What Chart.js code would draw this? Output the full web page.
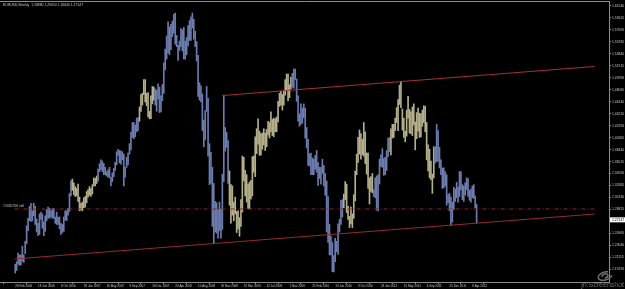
<!DOCTYPE html>
<html>
<head>
<meta charset="utf-8">
<script src="https://cdn.jsdelivr.net/npm/chart.js@4.4.1/dist/chart.umd.min.js"></script>
<style>
  html, body { margin: 0; padding: 0; background: #000; }
  canvas { display: block; }
</style>
</head>
<body>
<canvas id="chart" width="625" height="289"></canvas>
<script>
// EURUSD weekly, one entry per bar starting 26 Feb 2006
const highs = [
  1.2000, 1.2040, 1.2180, 1.2150, 1.2150, 1.2290, 1.2150, 1.2370, 1.2620, 1.2740,
  1.2930, 1.2980, 1.2860, 1.2980, 1.2930, 1.2730, 1.2660, 1.2810, 1.2840, 1.2810,
  1.2680, 1.2780, 1.2880, 1.2920, 1.2900, 1.2860, 1.2890, 1.2900, 1.2760, 1.2840,
  1.2760, 1.2760, 1.2660, 1.2640, 1.2760, 1.2860, 1.2860, 1.2900, 1.3140, 1.3340,
  1.3370, 1.3310, 1.3250, 1.3220, 1.3290, 1.3080, 1.2980, 1.3000, 1.3070, 1.3090,
  1.3170, 1.3200, 1.3250, 1.3220, 1.3280, 1.3390, 1.3380, 1.3420, 1.3530, 1.3620,
  1.3680, 1.3660, 1.3620, 1.3560, 1.3490, 1.3520, 1.3560, 1.3400, 1.3470, 1.3540,
  1.3640, 1.3810, 1.3850, 1.3830, 1.3820, 1.3810, 1.3770, 1.3560, 1.3720, 1.3790,
  1.3940, 1.4120, 1.4280, 1.4280, 1.4240, 1.4350, 1.4360, 1.4530, 1.4730, 1.4750,
  1.4970, 1.4970, 1.4750, 1.4760, 1.4460, 1.4710, 1.4860, 1.4850, 1.4820, 1.4800,
  1.4900, 1.4850, 1.4710, 1.4890, 1.5240, 1.5460, 1.5670, 1.5900, 1.5820, 1.5860,
  1.5910, 1.6020, 1.6040, 1.5680, 1.5520, 1.5590, 1.5790, 1.5770, 1.5810, 1.5590,
  1.5650, 1.5840, 1.5920, 1.5980, 1.6040, 1.5940, 1.5750, 1.5580, 1.5360, 1.4920,
  1.4870, 1.4740, 1.4320, 1.4470, 1.4860, 1.4670, 1.3940, 1.3800, 1.3560, 1.3300,
  1.3010, 1.2990, 1.2880, 1.3000, 1.2890, 1.3450, 1.4720, 1.4200, 1.4120, 1.3990,
  1.3500, 1.3280, 1.3260, 1.3000, 1.3080, 1.2850, 1.2860, 1.2750, 1.3040, 1.3740,
  1.3720, 1.3510, 1.3440, 1.3290, 1.3320, 1.3350, 1.3730, 1.3740, 1.4050, 1.4180,
  1.4340, 1.4140, 1.4100, 1.4110, 1.4180, 1.4110, 1.4170, 1.4300, 1.4280, 1.4450,
  1.4330, 1.4350, 1.4340, 1.4370, 1.4620, 1.4750, 1.4780, 1.4730, 1.4790, 1.4970,
  1.5060, 1.5060, 1.4890, 1.5010, 1.5070, 1.5140, 1.5140, 1.4980, 1.4710, 1.4420,
  1.4580, 1.4510, 1.4580, 1.4510, 1.4200, 1.4010, 1.3780, 1.3790, 1.3710, 1.3690,
  1.3750, 1.3830, 1.3640, 1.3560, 1.3560, 1.3690, 1.3590, 1.3460, 1.3340, 1.3090,
  1.2640, 1.2450, 1.2350, 1.2140, 1.2420, 1.2370, 1.2650, 1.2720, 1.3030, 1.3040,
  1.3130, 1.3330, 1.3290, 1.2930, 1.2770, 1.2920, 1.2810, 1.3120, 1.3500, 1.3770,
  1.4040, 1.4160, 1.4100, 1.4010, 1.4280, 1.4130, 1.3790, 1.3790, 1.3390, 1.3410,
  1.3460, 1.3200, 1.3390, 1.3420, 1.3440, 1.3690, 1.3760, 1.3860, 1.3700, 1.3720,
  1.3830, 1.4030, 1.4040, 1.4180, 1.4250, 1.4250, 1.4350, 1.4520, 1.4650, 1.4880,
  1.4940, 1.4500, 1.4350, 1.4140, 1.4480, 1.4700, 1.4490, 1.4450, 1.4530, 1.4580,
  1.4290, 1.4440, 1.4510, 1.4430, 1.4420, 1.4480, 1.4550, 1.4540, 1.4280, 1.3920,
  1.3850, 1.3660, 1.3450, 1.3890, 1.3890, 1.4250, 1.4150, 1.3880, 1.3680, 1.3550,
  1.3550, 1.3490, 1.3440, 1.3120, 1.3140, 1.3080, 1.3000, 1.3240, 1.3210, 1.3320,
  1.3240, 1.3490, 1.3490, 1.3280, 1.3260, 1.3310, 1.3390, 1.3380, 1.3190, 1.3210,
  1.3260, 1.3280, 1.3100, 1.2961
];
const lows = [
  1.1860, 1.1900, 1.2000, 1.1980, 1.1990, 1.2050, 1.2030, 1.2170, 1.2330, 1.2540,
  1.2700, 1.2690, 1.2700, 1.2780, 1.2640, 1.2520, 1.2460, 1.2480, 1.2720, 1.2580,
  1.2460, 1.2530, 1.2700, 1.2740, 1.2740, 1.2760, 1.2740, 1.2740, 1.2660, 1.2640,
  1.2640, 1.2570, 1.2480, 1.2510, 1.2530, 1.2710, 1.2700, 1.2790, 1.2850, 1.3100,
  1.3190, 1.3120, 1.3090, 1.3100, 1.3010, 1.2860, 1.2870, 1.2860, 1.2910, 1.2920,
  1.2990, 1.3080, 1.3110, 1.3090, 1.3130, 1.3260, 1.3260, 1.3300, 1.3340, 1.3490,
  1.3520, 1.3490, 1.3440, 1.3440, 1.3420, 1.3400, 1.3390, 1.3260, 1.3330, 1.3410,
  1.3510, 1.3600, 1.3750, 1.3630, 1.3610, 1.3680, 1.3260, 1.3400, 1.3560, 1.3600,
  1.3770, 1.3840, 1.4040, 1.4020, 1.4050, 1.4130, 1.4150, 1.4300, 1.4460, 1.4560,
  1.4730, 1.4610, 1.4550, 1.4370, 1.4340, 1.4340, 1.4580, 1.4640, 1.4560, 1.4460,
  1.4660, 1.4440, 1.4450, 1.4630, 1.4750, 1.5130, 1.5300, 1.5400, 1.5370, 1.5450,
  1.5660, 1.5720, 1.5540, 1.5500, 1.5280, 1.5440, 1.5500, 1.5430, 1.5300, 1.5300,
  1.5370, 1.5510, 1.5600, 1.5600, 1.5800, 1.5620, 1.5500, 1.5270, 1.4700, 1.4640,
  1.4610, 1.4150, 1.3890, 1.4000, 1.4460, 1.3740, 1.3280, 1.3300, 1.2610, 1.2330,
  1.2520, 1.2500, 1.2420, 1.2540, 1.2420, 1.2560, 1.3330, 1.3820, 1.3880, 1.3300,
  1.2950, 1.2660, 1.2790, 1.2700, 1.2810, 1.2510, 1.2570, 1.2450, 1.2610, 1.2840,
  1.3340, 1.3100, 1.3000, 1.2900, 1.2890, 1.3050, 1.3100, 1.3480, 1.3410, 1.3780,
  1.3930, 1.3750, 1.3760, 1.3850, 1.3920, 1.3830, 1.3890, 1.4080, 1.4030, 1.4130,
  1.4070, 1.4050, 1.4130, 1.4130, 1.4290, 1.4540, 1.4560, 1.4480, 1.4560, 1.4720,
  1.4790, 1.4630, 1.4680, 1.4820, 1.4850, 1.4830, 1.4970, 1.4620, 1.4300, 1.4220,
  1.4250, 1.4270, 1.4360, 1.4030, 1.3870, 1.3590, 1.3580, 1.3440, 1.3440, 1.3440,
  1.3530, 1.3480, 1.3270, 1.3380, 1.3290, 1.3460, 1.3260, 1.3110, 1.2520, 1.2350,
  1.2150, 1.2150, 1.1880, 1.1876, 1.2040, 1.2200, 1.2160, 1.2520, 1.2640, 1.2760,
  1.2910, 1.3040, 1.2830, 1.2720, 1.2590, 1.2650, 1.2590, 1.2740, 1.3020, 1.3440,
  1.3640, 1.3770, 1.3690, 1.3760, 1.3740, 1.3620, 1.3450, 1.3220, 1.2970, 1.3170,
  1.3150, 1.3090, 1.3070, 1.2870, 1.2860, 1.3290, 1.3570, 1.3560, 1.3430, 1.3440,
  1.3510, 1.3730, 1.3810, 1.3760, 1.4030, 1.4040, 1.4150, 1.4280, 1.4150, 1.4570,
  1.4520, 1.4160, 1.4040, 1.3970, 1.4060, 1.4350, 1.4110, 1.4100, 1.4070, 1.4240,
  1.3840, 1.4020, 1.4140, 1.4040, 1.4050, 1.4220, 1.4280, 1.4130, 1.3680, 1.3500,
  1.3390, 1.3360, 1.3140, 1.3390, 1.3630, 1.3650, 1.3660, 1.3550, 1.3440, 1.3220,
  1.3230, 1.3260, 1.2950, 1.2990, 1.2860, 1.2620, 1.2680, 1.2880, 1.3010, 1.3070,
  1.3000, 1.3090, 1.3200, 1.3040, 1.3010, 1.3110, 1.3200, 1.3090, 1.3030, 1.3000,
  1.3070, 1.3060, 1.2910, 1.2664
];
const lastBar = ['1.28880', '1.29610', '1.26640', '1.27147'];
const lastClose = 1.27147;

// bar ranges drawn in the light (khaki) colour, by bar index
const lightRanges = [[40, 57], [87, 97], [150, 193], [230, 250], [263, 293]];

const priceTicks = [
  1.19190, 1.21115, 1.23040, 1.24965, 1.26890, 1.28815, 1.30740, 1.32665,
  1.34590, 1.36515, 1.38440, 1.40365, 1.42290, 1.44215, 1.46140, 1.48065,
  1.49990, 1.51915, 1.53840, 1.55765, 1.57690, 1.59615, 1.61540
];
const dateTicks = [
  '26 Feb 2006', '18 Jun 2006', '8 Oct 2006', '28 Jan 2007', '20 May 2007',
  '9 Sep 2007', '30 Dec 2007', '20 Apr 2008', '10 Aug 2008', '30 Nov 2008',
  '22 Mar 2009', '12 Jul 2009', '1 Nov 2009', '21 Feb 2010', '13 Jun 2010',
  '3 Oct 2010', '23 Jan 2011', '15 May 2011', '4 Sep 2011', '25 Dec 2011',
  '8 Apr 2012'
];
const DATE_STEP = 16;
const TOTAL_SLOTS = 406;

const orderPrice = 1.2889;
const orderLabel = '#1345756 sell';
const lowerTrend = [{ x: -0.5, y: 1.2085 }, { x: 405.5, y: 1.2808 }];
const upperTrend = [{ x: 145, y: 1.4714 }, { x: 405.5, y: 1.5181 }];

const BLUE = '#6d7cae';
const KHAKI = '#b3af8b';
const AXIS = '#8c8c8c';
const TEXT = '#c8c8c8';
const FONT = 'Liberation Sans';

const isLight = (i) => lightRanges.some(([a, b]) => i >= a && i <= b);

const overlay = {
  id: 'overlay',
  afterDraw(chart) {
    const { ctx, chartArea, scales } = chart;
    ctx.save();
    // frame top line
    ctx.strokeStyle = AXIS;
    ctx.lineWidth = 1;
    ctx.beginPath();
    ctx.moveTo(chartArea.left, chartArea.top + 0.5);
    ctx.lineTo(chartArea.right, chartArea.top + 0.5);
    ctx.stroke();

    ctx.font = '3.4px "' + FONT + '"';
    ctx.fillStyle = TEXT;
    ctx.textBaseline = 'middle';
    ctx.fillText('EURUSD,Weekly  ' + lastBar.join(' '), 3, 5);

    const oy = scales.y.getPixelForValue(orderPrice);
    ctx.fillText(orderLabel, 3, oy - 3);

    // current price box
    const cy = scales.y.getPixelForValue(lastClose);
    ctx.fillStyle = '#ffffff';
    ctx.fillRect(chartArea.right + 1, cy - 2.5, 20, 5);
    ctx.fillStyle = '#000';
    ctx.fillText(lastClose.toFixed(5), chartArea.right + 3, cy);

    // screenshot tool watermark
    ctx.strokeStyle = '#707070';
    ctx.lineWidth = 1.5;
    ctx.beginPath();
    ctx.ellipse(605, 276, 7, 4, -0.3, 0.3, Math.PI * 1.7);
    ctx.stroke();
    ctx.beginPath();
    ctx.ellipse(605, 276, 3, 2, -0.3, Math.PI, Math.PI * 2.6);
    ctx.stroke();
    ctx.fillStyle = '#707070';
    ctx.font = '7px "' + FONT + '"';
    ctx.textAlign = 'right';
    ctx.fillText('jn:Screenshot', 624, 285);
    ctx.restore();
  }
};

new Chart(document.getElementById('chart'), {
  type: 'bar',
  data: {
    datasets: [
      {
        type: 'line',
        data: lowerTrend,
        borderColor: '#9a2a2a',
        borderWidth: 1,
        pointRadius: 0,
        order: 0
      },
      {
        type: 'line',
        data: upperTrend,
        borderColor: '#a83232',
        borderWidth: 1,
        pointRadius: 0,
        order: 0
      },
      {
        type: 'line',
        data: [{ x: -0.5, y: orderPrice }, { x: 405.5, y: orderPrice }],
        borderColor: '#8a2a2a',
        borderWidth: 1,
        borderDash: [4, 2, 1, 2],
        pointRadius: 0,
        order: 0
      },
      {
        data: highs.map((h, i) => ({ x: i, y: [lows[i], h] })),
        backgroundColor: highs.map((h, i) => (isLight(i) ? KHAKI : BLUE)),
        barThickness: 1,
        grouped: false,
        order: 1
      }
    ]
  },
  options: {
    responsive: false,
    animation: false,
    layout: { padding: { top: 1, left: 0, right: 0, bottom: 0 } },
    plugins: { legend: { display: false }, tooltip: { enabled: false } },
    scales: {
      x: {
        type: 'linear',
        min: -0.5,
        max: TOTAL_SLOTS - 0.5,
        afterBuildTicks: (scale) => {
          scale.ticks = dateTicks.map((_, k) => ({ value: k * DATE_STEP }));
        },
        afterFit: (scale) => {
          scale.height = 7;
          scale.paddingLeft = 0;
          scale.paddingRight = 0;
        },
        ticks: {
          autoSkip: false,
          maxRotation: 0,
          align: 'start',
          padding: 0,
          color: TEXT,
          font: { size: 3, family: FONT },
          callback: (v) => dateTicks[Math.round(v / DATE_STEP)]
        },
        grid: { drawOnChartArea: false, tickLength: 2, color: AXIS },
        border: { color: AXIS }
      },
      y: {
        position: 'right',
        min: 1.1715,
        max: 1.6234,
        afterBuildTicks: (scale) => {
          scale.ticks = priceTicks.map((v) => ({ value: v }));
        },
        afterFit: (scale) => {
          scale.width = 16;
          scale.paddingTop = 0;
          scale.paddingBottom = 0;
        },
        ticks: {
          padding: 1,
          color: TEXT,
          font: { size: 3.4, family: FONT },
          callback: (v) => v.toFixed(5)
        },
        grid: { drawOnChartArea: false, tickLength: 2, color: AXIS },
        border: { color: AXIS }
      }
    }
  },
  plugins: [overlay]
});
</script>
</body>
</html>
